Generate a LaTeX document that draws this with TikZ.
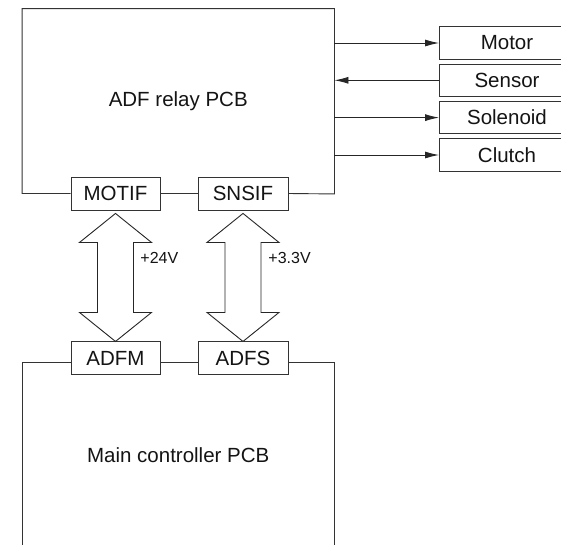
\documentclass[tikz,border=0pt]{standalone}
\usepackage{fontspec}
\setmainfont{Liberation Sans}
\usetikzlibrary{calc,arrows.meta}
\begin{document}
\begin{tikzpicture}[x=1pt,y=-1pt,line width=0.9pt,
  every node/.style={text=black!92},
  pcb/.style={rectangle,inner sep=0pt,minimum width=311.5pt,minimum height=184.5pt,font=\fontsize{20.5}{24}\selectfont},
  conn/.style={rectangle,draw=black!80,fill=white,inner sep=0pt,minimum height=33pt,font=\fontsize{20.5}{24}\selectfont},
  dev/.style={rectangle,draw=black!80,fill=white,inner sep=0pt,minimum width=135pt,minimum height=32.5pt,font=\fontsize{20.5}{24}\selectfont},
  edge/.style={draw=black!80},
  sig/.style={draw=black!85,-{Latex[length=14pt,width=7pt]}},
  bigarrow/.style={draw=black!85,fill=white,line join=miter},
  volt/.style={anchor=west,inner sep=1pt,font=\fontsize{16}{19}\selectfont}]
\useasboundingbox (0,0) rectangle (561,544);
\clip (0,0) rectangle (561,544);
% boards
\node[pcb] (relay) at (178.25,101.25) {ADF relay PCB};
\node[pcb] (main) at (178.25,454.75) {Main controller PCB};
% connectors
\node[conn,minimum width=89pt] (MOTIF) at (115.5,193.5) {MOTIF};
\node[conn,minimum width=90pt] (SNSIF) at (243,193.5) {SNSIF};
\node[conn,minimum width=89pt,minimum height=32.5pt] (ADFM) at (115.5,358) {ADFM};
\node[conn,minimum width=90pt,minimum height=32.5pt] (ADFS) at (243,358) {ADFS};
% board outlines
\draw[edge] (MOTIF.west) -- (MOTIF.west -| relay.west) -- (relay.north west) -- (relay.north east) -- (relay.south east) -- (SNSIF.east);
\draw[edge] (MOTIF.east) -- (SNSIF.west);
\draw[edge] (ADFM.west |- main.north) -- (main.north west) -- (main.south west);
\draw[edge] (ADFS.east |- main.north) -- (main.north east) -- (main.south east);
\draw[edge] (ADFM.east |- main.north) -- (ADFS.west |- main.north);
% devices
\node[dev] (motor) at (507,43) {Motor};
\node[dev] (sensor) at (507,80.3) {Sensor};
\node[dev] (solenoid) at (507,117.6) {Solenoid};
\node[dev] (clutch) at (507,155) {Clutch};
\draw[sig] (relay.east |- motor.west) -- (motor.west);
\draw[sig] (sensor.west) -- (relay.east |- sensor.west);
\draw[sig] (relay.east |- solenoid.west) -- (solenoid.west);
\draw[sig] (relay.east |- clutch.west) -- (clutch.west);
% double arrows
\draw[bigarrow] ($(MOTIF.south)+(0,3)$) -- ++(36,29) -- ++(-18,0) -- ++(0,70) -- ++(18,0) -- ++(-36,29) -- ++(-36,-29) -- ++(18,0) -- ++(0,-70) -- ++(-18,0) -- cycle;
\draw[bigarrow] ($(SNSIF.south)+(0,3)$) -- ++(36,29) -- ++(-18,0) -- ++(0,70) -- ++(18,0) -- ++(-36,29) -- ++(-36,-29) -- ++(18,0) -- ++(0,-70) -- ++(-18,0) -- cycle;
\node[volt] (v24) at (139,258) {+24V};
\node[volt] (v33) at (267,258) {+3.3V};
\end{tikzpicture}
\end{document}
